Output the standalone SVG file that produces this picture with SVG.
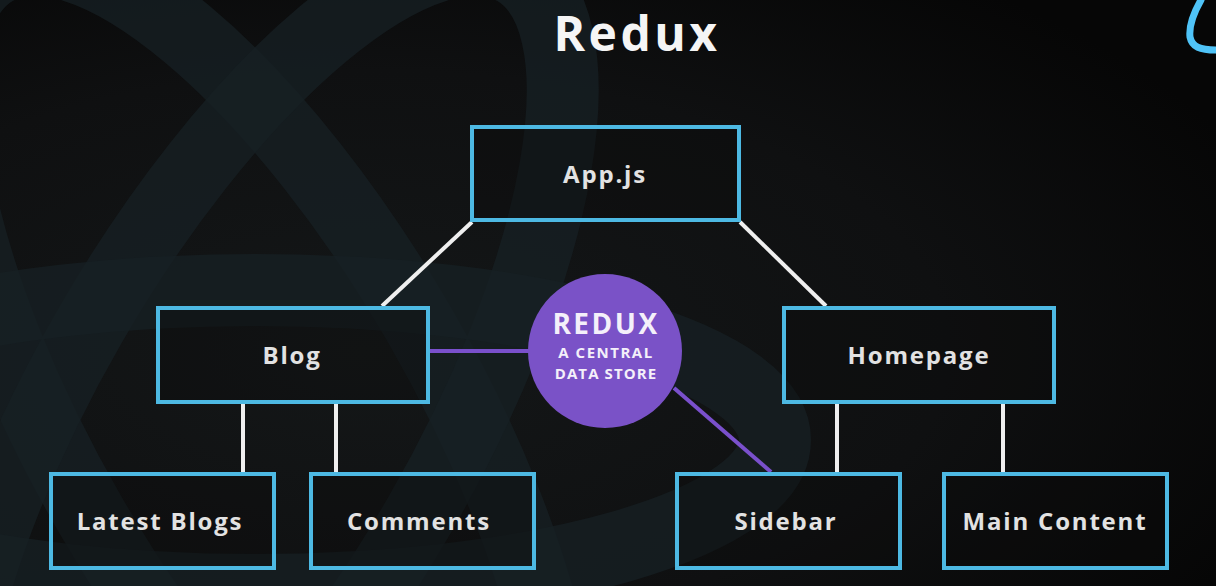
<svg xmlns="http://www.w3.org/2000/svg" width="1216" height="586" viewBox="0 0 1216 586">
  <defs>
    <radialGradient id="bgGlow" cx="0.3" cy="0.6" r="0.8">
      <stop offset="0" stop-color="#141718"/>
      <stop offset="0.6" stop-color="#0f1011"/>
      <stop offset="1" stop-color="#060606"/>
    </radialGradient>
    <style>
      .orbit { fill: none; stroke: #172024; stroke-width: 72; opacity: 0.75; }
      .box { fill: #0c0c0c; fill-opacity: 0.35; stroke: #4db9e3; stroke-width: 4; }
      .lbl { font-family: "Open Sans", "Noto Sans", "Liberation Sans", sans-serif; font-weight: 700; font-size: 24px; fill: #e2e2e2; text-anchor: middle; letter-spacing: 1.8px; }
      .tree { stroke: #efefef; stroke-width: 4; fill: none; }
      .store { stroke: #7a50cc; stroke-width: 4; fill: none; }
      .ctext { font-family: "Open Sans", "Noto Sans", "Liberation Sans", sans-serif; font-weight: 700; fill: #f4f0fa; text-anchor: middle; }
    </style>
  </defs>

  <!-- background -->
  <rect x="0" y="0" width="1216" height="586" fill="url(#bgGlow)"/>
  <g id="background-atom">
    <ellipse class="orbit" cx="255" cy="420" rx="520" ry="190" transform="rotate(60 255 420)"/>
    <ellipse class="orbit" cx="255" cy="420" rx="520" ry="190" transform="rotate(-60 255 420)"/>
    <ellipse class="orbit" cx="255" cy="440" rx="520" ry="150"/>
  </g>
  <path d="M1201,0 C1193,14 1189,28 1190,37 C1192,47 1200,50 1216,50" fill="none" stroke="#4fc3f7" stroke-width="7" stroke-linecap="round"/>

  <text x="637" y="51" font-family="'Open Sans', 'Noto Sans', 'Liberation Sans', sans-serif" font-weight="700" font-size="48" fill="#f5f5f5" text-anchor="middle" letter-spacing="3.5">Redux</text>

  <g id="connectors">
    <line class="tree" x1="472" y1="222" x2="382" y2="306"/>
    <line class="tree" x1="740" y1="222" x2="826" y2="306"/>
    <line class="tree" x1="243" y1="404" x2="243" y2="472"/>
    <line class="tree" x1="336" y1="404" x2="336" y2="472"/>
    <line class="tree" x1="837" y1="404" x2="837" y2="472"/>
    <line class="tree" x1="1003" y1="404" x2="1003" y2="472"/>
    <line class="store" x1="430" y1="351" x2="530" y2="351"/>
    <line class="store" x1="674" y1="388" x2="771" y2="472"/>
  </g>

  <g id="node-app">
    <rect class="box" x="472" y="127" width="267" height="93"/>
    <text class="lbl" x="605" y="183">App.js</text>
  </g>
  <g id="node-blog">
    <rect class="box" x="158" y="308" width="270" height="94"/>
    <text class="lbl" x="292" y="364">Blog</text>
  </g>
  <g id="node-homepage">
    <rect class="box" x="784" y="308" width="270" height="94"/>
    <text class="lbl" x="919" y="364">Homepage</text>
  </g>
  <g id="node-latest-blogs">
    <rect class="box" x="51" y="474" width="223" height="94"/>
    <text class="lbl" x="160" y="530">Latest Blogs</text>
  </g>
  <g id="node-comments">
    <rect class="box" x="311" y="474" width="223" height="94"/>
    <text class="lbl" x="419" y="530">Comments</text>
  </g>
  <g id="node-sidebar">
    <rect class="box" x="677" y="474" width="223" height="94"/>
    <text class="lbl" x="786" y="530">Sidebar</text>
  </g>
  <g id="node-main-content">
    <rect class="box" x="944" y="474" width="223" height="94"/>
    <text class="lbl" x="1055" y="530">Main Content</text>
  </g>
  <g id="node-redux">
    <circle cx="605" cy="351" r="77" fill="#7a52c7"/>
    <text class="ctext" x="606" y="334" font-size="28" letter-spacing="2.5">REDUX</text>
    <text class="ctext" x="606" y="358" font-size="15" letter-spacing="1.5">A CENTRAL</text>
    <text class="ctext" x="606" y="379" font-size="15" letter-spacing="1.1">DATA STORE</text>
  </g>
</svg>
